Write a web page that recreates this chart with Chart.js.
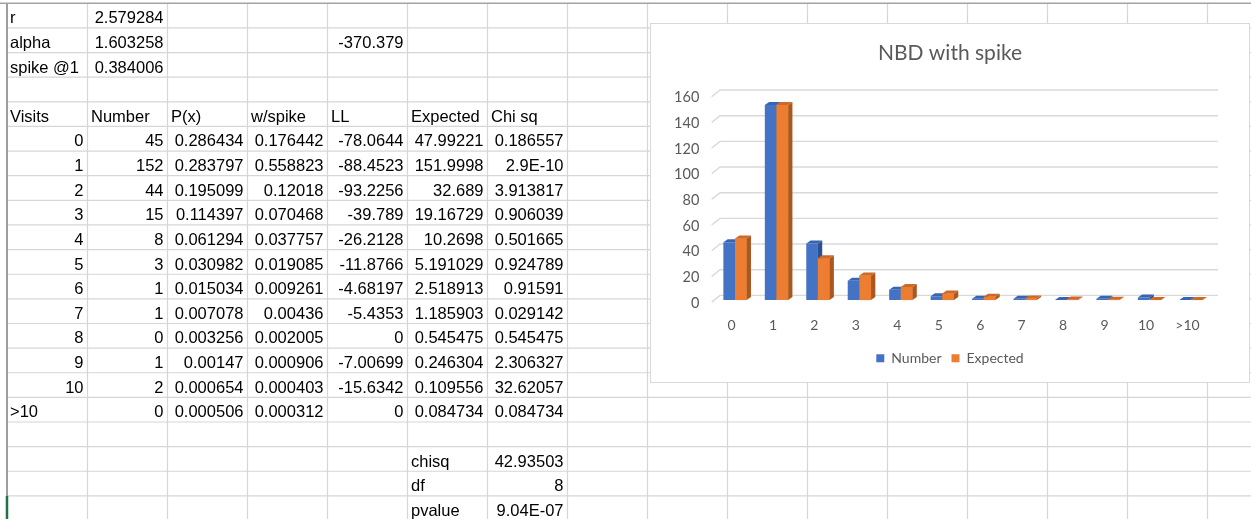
<!DOCTYPE html>
<html>
<head>
<meta charset="utf-8">
<script src="https://cdn.jsdelivr.net/npm/chart.js@4.4.1/dist/chart.umd.min.js"></script>
<style>
  html, body { margin: 0; padding: 0; background: #fff; }
  body { width: 1251px; height: 519px; overflow: hidden; position: relative;
         font-family: "Liberation Sans", Arial, sans-serif; }
  #gridCanvas { position: absolute; left: 0; top: 0; }
  #sheet { position: absolute; left: 0; top: 0; width: 1251px; height: 519px; }
  .cell { position: absolute; font-size: 16.5px; white-space: nowrap; color: #000; }
  #chartBox { position: absolute; left: 650px; top: 23px; width: 600px; height: 360px;
              box-sizing: border-box; border: 1px solid #d9d9d9; background: #fff; }
  #chartBox canvas { position: absolute; left: 0; top: 0; }
</style>
</head>
<body>
<canvas id="gridCanvas" width="1251" height="519"></canvas>
<div id="sheet"></div>
<div id="chartBox"><canvas id="chart" width="598" height="358"></canvas></div>
<script>
// ---- model parameters ----
const paramLabels = ['r', 'alpha', 'spike @1'];
const paramValues = ['2.579284', '1.603258', '0.384006'];
const totalLL = '-370.379';

// ---- frequency table ----
const categories = ['0', '1', '2', '3', '4', '5', '6', '7', '8', '9', '10', '>10'];
const observed = [45, 152, 44, 15, 8, 3, 1, 1, 0, 1, 2, 0];
const expected = [47.99221, 151.9998, 32.689, 19.16729, 10.2698, 5.191029, 2.518913, 1.185903, 0.545475, 0.246304, 0.109556, 0.084734];
const pX = ['0.286434', '0.283797', '0.195099', '0.114397', '0.061294', '0.030982', '0.015034', '0.007078', '0.003256', '0.00147', '0.000654', '0.000506'];
const withSpike = ['0.176442', '0.558823', '0.12018', '0.070468', '0.037757', '0.019085', '0.009261', '0.00436', '0.002005', '0.000906', '0.000403', '0.000312'];
const logLik = ['-78.0644', '-88.4523', '-93.2256', '-39.789', '-26.2128', '-11.8766', '-4.68197', '-5.4353', '0', '-7.00699', '-15.6342', '0'];
const chiSq = ['0.186557', '2.9E-10', '3.913817', '0.906039', '0.501665', '0.924789', '0.91591', '0.029142', '0.545475', '2.306327', '32.62057', '0.084734'];
const headers = ['Visits', 'Number', 'P(x)', 'w/spike', 'LL', 'Expected', 'Chi sq'];

// ---- goodness of fit summary ----
const summaryLabels = ['chisq', 'df', 'pvalue'];
const summaryValues = ['42.93503', '8', '9.04E-07'];

// ---- y axis ticks ----
const yMin = 0, yMax = 160, yStep = 20;

// ---------- worksheet ----------
const COL_X0 = 7.5, COL_W = 80, ROW_Y0 = 3.3, ROW_H = 24.63;

(function drawGrid() {
  const g = document.getElementById('gridCanvas').getContext('2d');
  g.strokeStyle = '#d6d6d6';
  g.lineWidth = 1.2;
  for (let k = 1; k <= 16; k++) {
    const x = COL_X0 + k * COL_W;
    g.beginPath(); g.moveTo(x, ROW_Y0); g.lineTo(x, 519); g.stroke();
  }
  for (let k = 1; k <= 21; k++) {
    const y = ROW_Y0 + k * ROW_H;
    g.beginPath(); g.moveTo(COL_X0, y); g.lineTo(1251, y); g.stroke();
  }
  // header edges
  g.strokeStyle = '#a3a3a3';
  g.lineWidth = 1.6;
  g.beginPath(); g.moveTo(0, ROW_Y0); g.lineTo(1251, ROW_Y0); g.stroke();
  g.strokeStyle = '#9e9e9e';
  g.lineWidth = 2;
  g.beginPath(); g.moveTo(COL_X0 - 0.5, ROW_Y0); g.lineTo(COL_X0 - 0.5, 519); g.stroke();
  // active cell marker
  g.strokeStyle = '#217346';
  g.lineWidth = 2.5;
  g.beginPath(); g.moveTo(COL_X0 - 0.5, ROW_Y0 + 20 * ROW_H); g.lineTo(COL_X0 - 0.5, 519); g.stroke();
})();

const sheet = document.getElementById('sheet');
function putCell(row, col, text, align) {
  const d = document.createElement('div');
  d.className = 'cell';
  d.textContent = text;
  const left = COL_X0 + col * COL_W;
  d.style.top = (ROW_Y0 + row * ROW_H + 2) + 'px';
  d.style.height = ROW_H + 'px';
  d.style.lineHeight = ROW_H + 'px';
  if (align === 'right') {
    d.style.left = left + 'px';
    d.style.width = (COL_W - 4) + 'px';
    d.style.textAlign = 'right';
  } else {
    d.style.left = (left + (col === 0 ? 2.5 : 3.5)) + 'px';
  }
  sheet.appendChild(d);
}

paramLabels.forEach((t, i) => { putCell(i, 0, t, 'left'); putCell(i, 1, paramValues[i], 'right'); });
putCell(1, 4, totalLL, 'right');
headers.forEach((h, c) => putCell(4, c, h, 'left'));
categories.forEach((cat, i) => {
  const row = 5 + i;
  putCell(row, 0, cat, cat === '>10' ? 'left' : 'right');
  putCell(row, 1, String(observed[i]), 'right');
  putCell(row, 2, pX[i], 'right');
  putCell(row, 3, withSpike[i], 'right');
  putCell(row, 4, logLik[i], 'right');
  putCell(row, 5, String(expected[i]), 'right');
  putCell(row, 6, chiSq[i], 'right');
});
summaryLabels.forEach((t, i) => { putCell(18 + i, 5, t, 'left'); putCell(18 + i, 6, summaryValues[i], 'right'); });

// ---------- 3D column chart ----------
const DX = 4.3, DY = -3;
const faceColors = [
  { side: '#2c5190', top: '#3864b2' },
  { side: '#ab581e', top: '#cf6a26' }
];

function drawDepth(ctx, bar, colors) {
  const { x, y, base, width } = bar.getProps(['x', 'y', 'base', 'width'], true);
  const l = x - width / 2, r = x + width / 2;
  ctx.fillStyle = colors.side;
  ctx.beginPath();
  ctx.moveTo(r, y); ctx.lineTo(r + DX, y + DY); ctx.lineTo(r + DX, base + DY); ctx.lineTo(r, base);
  ctx.closePath(); ctx.fill();
  ctx.fillStyle = colors.top;
  ctx.beginPath();
  ctx.moveTo(l, y); ctx.lineTo(l + DX, y + DY); ctx.lineTo(r + DX, y + DY); ctx.lineTo(r, y);
  ctx.closePath(); ctx.fill();
}

const columns3d = {
  id: 'columns3d',
  afterLayout(chart) {
    // centre the title and legend across the whole chart box
    [chart.titleBlock, chart.legend].forEach(box => {
      if (!box) return;
      box.left = 0;
      box.right = chart.width;
      box.width = chart.width;
    });
  },
  beforeDatasetsDraw(chart) {
    // back wall and floor gridlines
    const { ctx, chartArea, scales: { y } } = chart;
    ctx.save();
    ctx.strokeStyle = '#d9d9d9';
    ctx.lineWidth = 1.4;
    y.ticks.forEach(t => {
      const py = y.getPixelForValue(t.value);
      ctx.beginPath();
      ctx.moveTo(chartArea.left - 2.6, py + 2);
      ctx.lineTo(chartArea.left + 5.7, py - 4.7);
      ctx.lineTo(chartArea.right + 6.3, py - 4.7);
      ctx.stroke();
    });
    ctx.restore();
  },
  afterDatasetsDraw(chart) {
    const ctx = chart.ctx;
    ctx.save();
    chart.data.datasets.forEach((ds, i) => {
      const meta = chart.getDatasetMeta(i);
      if (i > 0) meta.data.forEach(bar => bar.draw(ctx, chart.chartArea));
      meta.data.forEach(bar => drawDepth(ctx, bar, faceColors[i]));
    });
    ctx.restore();
  }
};

const chartFont = { family: 'Lato, "Open Sans", sans-serif', size: 14 };

new Chart(document.getElementById('chart'), {
  type: 'bar',
  data: {
    labels: categories,
    datasets: [
      { label: 'Number', data: observed, backgroundColor: '#4472c4', borderWidth: 0,
        categoryPercentage: 0.5625, barPercentage: 1 },
      { label: 'Expected', data: expected, backgroundColor: '#ed7d31', borderWidth: 0,
        categoryPercentage: 0.5625, barPercentage: 1 }
    ]
  },
  options: {
    responsive: false,
    animation: false,
    devicePixelRatio: 1,
    layout: { padding: { left: 0, right: 37.3, top: 0, bottom: 6.75 } },
    plugins: {
      title: {
        display: true, text: 'NBD with spike', color: '#595959',
        font: { family: chartFont.family, size: 21, weight: 'normal' },
        padding: { top: 16.3, bottom: 29.2 }
      },
      legend: {
        position: 'bottom',
        labels: { boxWidth: 8, boxHeight: 8, padding: 10, color: '#595959', font: chartFont }
      },
      tooltip: { enabled: false }
    },
    scales: {
      x: {
        grid: { display: false, drawTicks: false }, border: { display: false },
        ticks: { color: '#595959', font: chartFont, padding: 17, labelOffset: -3.5,
                 maxRotation: 0, autoSkip: false },
        afterFit(scale) { scale.height = 41.15; }
      },
      y: {
        min: yMin, max: yMax,
        grid: { display: false, drawTicks: false }, border: { display: false },
        ticks: { stepSize: yStep, color: '#595959', font: { family: chartFont.family, size: 14.5 },
                 padding: 15, labelOffset: 3 },
        afterFit(scale) { scale.width = 63.3; }
      }
    }
  },
  plugins: [columns3d]
});
</script>
</body>
</html>
